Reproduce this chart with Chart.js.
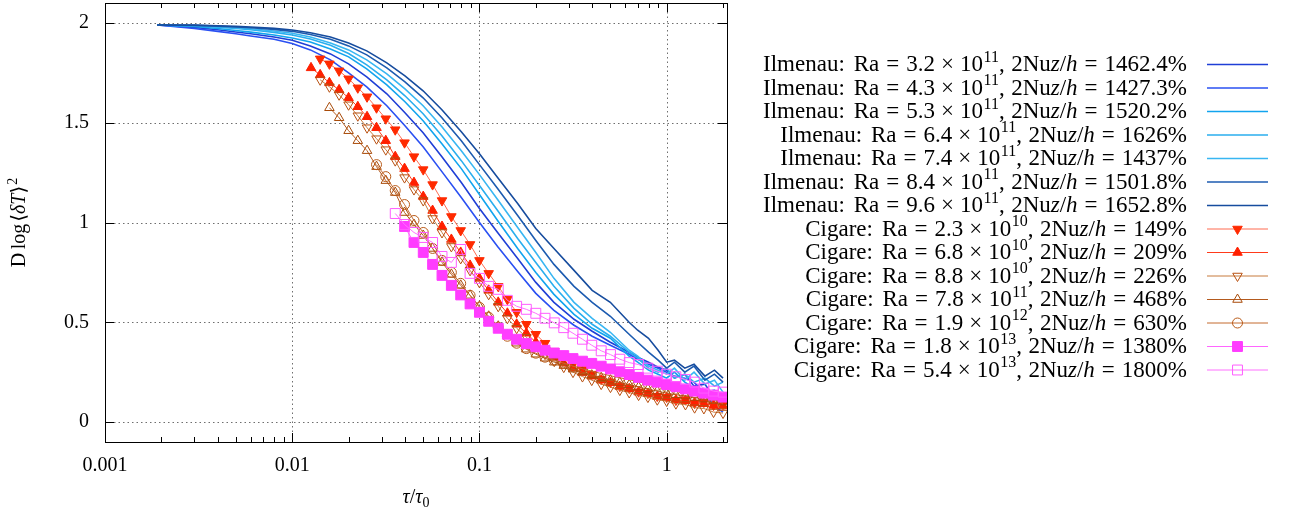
<!DOCTYPE html>
<html lang="en">
<head>
<meta charset="UTF-8">
<title>D log &lt;dT&gt;^2 vs tau/tau0</title>
<script src="https://cdn.jsdelivr.net/npm/chart.js"></script>
<style>
  html, body { margin: 0; padding: 0; background: #fff; }
  #wrap { width: 1295px; height: 516px; }
</style>
</head>
<body>
<div id="wrap"><canvas id="grafico" width="1295" height="516"></canvas></div>
<script>
// ---- Ilmenau: continuous curves ----
const ilmTau = [0.0019, 0.003, 0.004, 0.005, 0.006, 0.008, 0.01, 0.0125, 0.016, 0.02,
  0.025, 0.032, 0.04, 0.05, 0.063, 0.08, 0.1, 0.125, 0.16, 0.2,
  0.25, 0.32, 0.4, 0.5, 0.63, 0.7, 0.8, 0.9, 1.0, 1.1,
  1.25, 1.4, 1.6, 1.8, 2.0];
const ilmRa32 = [1.99, 1.978, 1.966, 1.955, 1.946, 1.93, 1.913, 1.885, 1.845, 1.795,
  1.73, 1.645, 1.55, 1.45, 1.33, 1.2, 1.07, 0.95, 0.82, 0.7,
  0.6, 0.515, 0.455, 0.4, 0.35, 0.325, 0.3, 0.275, 0.26, 0.22,
  0.24, 0.18, 0.19, 0.12, 0.1];
const ilmRa43 = [1.99, 1.972, 1.958, 1.946, 1.935, 1.918, 1.897, 1.865, 1.815, 1.75,
  1.68, 1.585, 1.485, 1.38, 1.255, 1.125, 1.0, 0.88, 0.755, 0.645,
  0.56, 0.485, 0.43, 0.385, 0.34, 0.315, 0.29, 0.27, 0.25, 0.23,
  0.22, 0.2, 0.14, 0.08, 0.05];
const ilmRa53 = [1.99, 1.982, 1.972, 1.962, 1.954, 1.94, 1.925, 1.905, 1.87, 1.83,
  1.77, 1.69, 1.605, 1.51, 1.395, 1.27, 1.14, 1.01, 0.87, 0.75,
  0.64, 0.54, 0.47, 0.42, 0.33, 0.3, 0.26, 0.24, 0.22, 0.25,
  0.2, 0.17, 0.15, 0.16, 0.12];
const ilmRa64 = [1.99, 1.985, 1.979, 1.972, 1.966, 1.953, 1.94, 1.92, 1.888, 1.847,
  1.79, 1.715, 1.635, 1.545, 1.435, 1.31, 1.185, 1.06, 0.92, 0.8,
  0.68, 0.57, 0.49, 0.43, 0.35, 0.32, 0.27, 0.25, 0.27, 0.22,
  0.24, 0.2, 0.22, 0.18, 0.2];
const ilmRa74 = [1.99, 1.987, 1.982, 1.976, 1.971, 1.96, 1.948, 1.93, 1.9, 1.865,
  1.815, 1.745, 1.67, 1.585, 1.48, 1.36, 1.24, 1.115, 0.975, 0.85,
  0.72, 0.6, 0.52, 0.45, 0.36, 0.33, 0.28, 0.26, 0.24, 0.27,
  0.21, 0.25, 0.19, 0.21, 0.15];
const ilmRa84 = [1.99, 1.988, 1.984, 1.98, 1.976, 1.968, 1.958, 1.942, 1.918, 1.885,
  1.84, 1.775, 1.705, 1.625, 1.525, 1.41, 1.29, 1.17, 1.035, 0.91,
  0.79, 0.68, 0.6, 0.53, 0.44, 0.4, 0.35, 0.31, 0.27, 0.3,
  0.25, 0.28, 0.21, 0.24, 0.2];
const ilmRa96 = [1.99, 1.989, 1.986, 1.983, 1.98, 1.973, 1.965, 1.951, 1.93, 1.9,
  1.86, 1.8, 1.735, 1.66, 1.565, 1.455, 1.345, 1.225, 1.095, 0.97,
  0.87, 0.76, 0.66, 0.6, 0.5, 0.46, 0.42, 0.36, 0.3, 0.31,
  0.27, 0.29, 0.23, 0.26, 0.22];

// ---- Cigare: points + lines (null = no point) ----
const cigTau = [0.0126, 0.0141, 0.0158, 0.0178, 0.02, 0.0224, 0.0251, 0.0282, 0.0316, 0.0355,
  0.0398, 0.0447, 0.0501, 0.0562, 0.0631, 0.0708, 0.0794, 0.0891, 0.1, 0.112,
  0.126, 0.141, 0.158, 0.178, 0.2, 0.224, 0.251, 0.282, 0.316, 0.355,
  0.398, 0.447, 0.501, 0.562, 0.631, 0.708, 0.794, 0.891, 1.0, 1.12,
  1.26, 1.41, 1.58, 1.78, 2.0];
const cigRa23e10 = [null, 1.82, 1.795, 1.76, 1.72, 1.675, 1.63, 1.575, 1.52, 1.465,
  1.40, 1.33, 1.265, 1.19, 1.11, 1.03, 0.96, 0.89, 0.81, 0.745,
  0.68, 0.615, 0.55, 0.49, 0.44, 0.395, 0.355, 0.32, 0.29, 0.263,
  0.24, 0.215, 0.2, 0.18, 0.17, 0.152, 0.145, 0.13, 0.125, 0.11,
  0.112, 0.095, 0.1, 0.085, 0.09];
const cigRa68e10 = [1.775, 1.74, 1.70, 1.665, 1.625, 1.58, 1.53, 1.475, 1.41, 1.33,
  1.27, 1.2, 1.13, 1.06, 0.98, 0.915, 0.85, 0.785, 0.72, 0.66,
  0.60, 0.545, 0.49, 0.445, 0.40, 0.36, 0.325, 0.295, 0.27, 0.248,
  0.23, 0.21, 0.197, 0.178, 0.167, 0.15, 0.142, 0.128, 0.122, 0.11,
  0.107, 0.096, 0.092, 0.083, 0.08];
const cigRa88e10 = [null, 1.715, 1.68, 1.64, 1.59, 1.535, 1.475, 1.42, 1.365, 1.31,
  1.225, 1.165, 1.11, 1.02, 0.95, 0.88, 0.82, 0.76, 0.70, 0.64,
  0.58, 0.52, 0.47, 0.425, 0.38, 0.34, 0.305, 0.275, 0.25, 0.228,
  0.21, 0.19, 0.175, 0.16, 0.148, 0.135, 0.125, 0.112, 0.105, 0.092,
  0.088, 0.072, 0.068, 0.05, 0.045];
const cigRa78e11 = [null, null, 1.575, 1.525, 1.46, 1.41, 1.36, 1.28, 1.21, 1.15,
  1.05, 0.99, 0.935, 0.87, 0.8, 0.74, 0.685, 0.635, 0.58, 0.53,
  0.48, 0.435, 0.395, 0.365, 0.34, 0.32, 0.3, 0.283, 0.265, 0.25,
  0.235, 0.222, 0.21, 0.198, 0.186, 0.175, 0.165, 0.155, 0.145, 0.137,
  0.13, 0.123, 0.115, 0.108, 0.1];
const cigRa19e12 = [null, null, null, null, null, null, null, 1.29, 1.23, 1.16,
  1.09, 1.01, 0.95, 0.87, 0.81, 0.75, 0.695, 0.635, 0.575, 0.525,
  0.475, 0.43, 0.395, 0.368, 0.345, 0.325, 0.31, 0.295, 0.28, 0.267,
  0.255, 0.243, 0.232, 0.222, 0.212, 0.202, 0.193, 0.184, 0.175, 0.165,
  0.155, 0.145, 0.135, 0.12, 0.09];
const cigRa18e13 = [null, null, null, null, null, null, null, null, null, null,
  0.98, 0.90, 0.85, 0.79, 0.735, 0.685, 0.637, 0.592, 0.55, 0.505,
  0.47, 0.44, 0.415, 0.393, 0.377, 0.36, 0.346, 0.333, 0.318, 0.305,
  0.294, 0.28, 0.266, 0.252, 0.238, 0.224, 0.21, 0.2, 0.188, 0.177,
  0.166, 0.155, 0.145, 0.135, 0.125];
const cigRa54e13 = [null, null, null, null, null, null, null, null, null, 1.045,
  0.99, 0.95, 0.925, 0.9, 0.83, 0.8, 0.865, 0.745, 0.72, 0.68,
  0.665, 0.61, 0.58, 0.565, 0.545, 0.52, 0.497, 0.473, 0.445, 0.415,
  0.385, 0.357, 0.338, 0.315, 0.298, 0.288, 0.27, 0.255, 0.24, 0.227,
  0.213, 0.2, 0.17, 0.155, 0.15];

// ---- legend text ----
const labelSource = ['Ilmenau', 'Ilmenau', 'Ilmenau', 'Ilmenau', 'Ilmenau', 'Ilmenau', 'Ilmenau',
  'Cigare', 'Cigare', 'Cigare', 'Cigare', 'Cigare', 'Cigare', 'Cigare'];
const labelRa = ['3.2', '4.3', '5.3', '6.4', '7.4', '8.4', '9.6', '2.3', '6.8', '8.8', '7.8', '1.9', '1.8', '5.4'];
const labelExp = ['11', '11', '11', '11', '11', '11', '11', '10', '10', '10', '11', '12', '13', '13'];
const labelNu = ['1462.4', '1427.3', '1520.2', '1626', '1437', '1501.8', '1652.8',
  '149', '209', '226', '468', '630', '1380', '1800'];

// ---- axes ----
const xTickValues = [0.001, 0.01, 0.1, 1];
const xTickLabels = ['0.001', '0.01', '0.1', '1'];
const yTickValues = [0, 0.5, 1, 1.5, 2];
const yTickLabels = ['0', '0.5', '1', '1.5', '2'];

const FONT = "'Liberation Serif', 'DejaVu Serif', serif";

function pts(xs, ys) {
  const out = [];
  xs.forEach((x, i) => { if (ys[i] !== null) out.push({ x: x, y: ys[i] }); });
  return out;
}

const ilmSeries = [ilmRa32, ilmRa43, ilmRa53, ilmRa64, ilmRa74, ilmRa84, ilmRa96];
const ilmColors = ['#1f3fd6', '#2a50f2', '#12a4ee', '#2aaeee', '#38b6f2', '#1c5bb0', '#164c9e'];

const cigSeries = [cigRa23e10, cigRa68e10, cigRa88e10, cigRa78e11, cigRa19e12, cigRa18e13, cigRa54e13];
const cigStyles = [
  { line: '#ff6a50', mark: '#ff2a00', fill: true, shape: 'triangle', rot: 180, r: 5.5 },
  { line: '#ff3a1a', mark: '#ff2000', fill: true, shape: 'triangle', rot: 0, r: 5.5 },
  { line: '#c77a3c', mark: '#b85010', fill: false, shape: 'triangle', rot: 180, r: 5.5 },
  { line: '#b45a1e', mark: '#a84a08', fill: false, shape: 'triangle', rot: 0, r: 5.5 },
  { line: '#c46a2e', mark: '#b85a18', fill: false, shape: 'circle', rot: 0, r: 5 },
  { line: '#ff66ff', mark: '#ff3cff', fill: true, shape: 'rect', rot: 0, r: 7 },
  { line: '#ff70ff', mark: '#ff5cff', fill: false, shape: 'rect', rot: 0, r: 7 }
];

const datasets = [];
ilmSeries.forEach((ys, i) => {
  datasets.push({
    data: pts(ilmTau, ys),
    borderColor: ilmColors[i],
    borderWidth: 1.6,
    pointRadius: 0,
    fill: false,
    order: 100 - i
  });
});
cigSeries.forEach((ys, i) => {
  const s = cigStyles[i];
  datasets.push({
    data: pts(cigTau, ys),
    borderColor: s.line,
    borderWidth: 1,
    pointStyle: s.shape,
    pointRotation: s.rot,
    pointRadius: s.r,
    pointBorderWidth: 1,
    pointBorderColor: s.mark,
    pointBackgroundColor: s.fill ? s.mark : 'rgba(0,0,0,0)',
    fill: false,
    order: 90 - i
  });
});

// rich text: parts [{t, it, sup, sub, gapL, gapR}]
function partFont(p, size) {
  const sz = (p.sup || p.sub) ? Math.round(size * 0.7) : size;
  return (p.it ? 'italic ' : '') + sz + 'px ' + FONT;
}
function drawRich(ctx, parts, x, y, size, align) {
  let total = 0;
  const widths = parts.map(p => {
    ctx.font = partFont(p, size);
    const w = ctx.measureText(p.t).width + (p.gapL || 0) + (p.gapR || 0);
    total += w;
    return w;
  });
  let cx = align === 'right' ? x - total : (align === 'center' ? x - total / 2 : x);
  ctx.textAlign = 'left';
  ctx.textBaseline = 'alphabetic';
  parts.forEach((p, i) => {
    ctx.font = partFont(p, size);
    let dy = 0;
    if (p.sup) dy = -size * 0.4;
    if (p.sub) dy = size * 0.22;
    ctx.fillText(p.t, cx + (p.gapL || 0), y + dy);
    cx += widths[i];
  });
}

function drawMarker(ctx, s, x, y) {
  ctx.save();
  ctx.lineWidth = 1;
  ctx.strokeStyle = s.mark;
  ctx.fillStyle = s.fill ? s.mark : 'rgba(0,0,0,0)';
  ctx.beginPath();
  if (s.shape === 'circle') {
    ctx.arc(x, y, s.r, 0, Math.PI * 2);
  } else if (s.shape === 'rect') {
    const h = s.r * Math.SQRT1_2;
    ctx.rect(x - h, y - h, 2 * h, 2 * h);
  } else {
    let a = s.rot * Math.PI / 180;
    ctx.moveTo(x + Math.sin(a) * s.r, y - Math.cos(a) * s.r);
    a += 2 * Math.PI / 3;
    ctx.lineTo(x + Math.sin(a) * s.r, y - Math.cos(a) * s.r);
    a += 2 * Math.PI / 3;
    ctx.lineTo(x + Math.sin(a) * s.r, y - Math.cos(a) * s.r);
    ctx.closePath();
  }
  if (s.fill) ctx.fill();
  ctx.stroke();
  ctx.restore();
}

const decor = {
  id: 'decor',
  beforeDatasetsDraw(chart) {
    const ctx = chart.ctx, a = chart.chartArea;
    const xs = chart.scales.x, ys = chart.scales.y;
    ctx.save();
    ctx.strokeStyle = '#6e6e6e';
    ctx.lineWidth = 1;
    ctx.setLineDash([1.5, 3]);
    xTickValues.slice(1).forEach(v => {
      const px = Math.round(xs.getPixelForValue(v)) + 0.5;
      ctx.beginPath(); ctx.moveTo(px, a.top); ctx.lineTo(px, a.bottom); ctx.stroke();
    });
    yTickValues.forEach(v => {
      const py = Math.round(ys.getPixelForValue(v)) + 0.5;
      ctx.beginPath(); ctx.moveTo(a.left, py); ctx.lineTo(a.right, py); ctx.stroke();
    });
    ctx.restore();
  },
  afterDatasetsDraw(chart) {
    const ctx = chart.ctx, a = chart.chartArea;
    const xs = chart.scales.x, ys = chart.scales.y;
    ctx.save();
    ctx.strokeStyle = '#000';
    ctx.lineWidth = 1;
    ctx.setLineDash([]);
    ctx.strokeRect(Math.round(a.left) + 0.5, Math.round(a.top) + 0.5,
      Math.round(a.right - a.left), Math.round(a.bottom - a.top));
    // x ticks (inward, mirrored)
    for (let e = -3; e <= 0; e++) {
      for (let m = 1; m <= 9; m++) {
        const v = m * Math.pow(10, e);
        if (v > xs.max) continue;
        const len = m === 1 ? 9 : 5;
        const px = Math.round(xs.getPixelForValue(v)) + 0.5;
        ctx.beginPath();
        ctx.moveTo(px, a.bottom); ctx.lineTo(px, a.bottom - len);
        ctx.moveTo(px, a.top); ctx.lineTo(px, a.top + len);
        ctx.stroke();
      }
    }
    yTickValues.forEach(v => {
      const py = Math.round(ys.getPixelForValue(v)) + 0.5;
      ctx.beginPath();
      ctx.moveTo(a.left, py); ctx.lineTo(a.left + 9, py);
      ctx.moveTo(a.right, py); ctx.lineTo(a.right - 9, py);
      ctx.stroke();
    });
    ctx.fillStyle = '#000';
    // axis titles
    drawRich(ctx, [{ t: 'τ', it: true }, { t: '/' }, { t: 'τ', it: true }, { t: '0', sub: true }],
      (a.left + a.right) / 2, 503, 20, 'center');
    ctx.save();
    ctx.translate(25, (a.top + a.bottom) / 2);
    ctx.rotate(-Math.PI / 2);
    drawRich(ctx, [{ t: 'D' }, { t: 'log', gapL: 3.5 }, { t: '⟨', gapL: 2 }, { t: 'δ', it: true },
      { t: 'T', it: true }, { t: '⟩' }, { t: '2', sup: true, gapL: 1 }], 0, 0, 20, 'center');
    ctx.restore();
    // legend
    const xText = 1187, xl0 = 1207, xl1 = 1268;
    chart.data.datasets.forEach((ds, i) => {
      const yRow = 64 + i * 23.5;
      ctx.fillStyle = '#000';
      drawRich(ctx, [
        { t: labelSource[i] + ':' }, { t: 'Ra', gapL: 9 }, { t: '=', gapL: 7, gapR: 7 },
        { t: labelRa[i] }, { t: '×', gapL: 6, gapR: 6 }, { t: '10' },
        { t: labelExp[i], sup: true, gapL: 0.5 }, { t: ',' }, { t: '2Nu', gapL: 6.5 },
        { t: 'z', it: true }, { t: '/' }, { t: 'h', it: true },
        { t: '=', gapL: 7, gapR: 7 }, { t: labelNu[i] + '%' }
      ], xText, yRow + 7, 23, 'right');
      ctx.strokeStyle = ds.borderColor;
      ctx.lineWidth = i < 7 ? 1.6 : 1;
      ctx.beginPath();
      ctx.moveTo(xl0, yRow + 0.5); ctx.lineTo(xl1, yRow + 0.5);
      ctx.stroke();
      if (i >= 7) drawMarker(ctx, cigStyles[i - 7], (xl0 + xl1) / 2, yRow + 0.5);
    });
    ctx.restore();
  }
};

const noPad = () => ({ left: 0, top: 0, right: 0, bottom: 0 });

const ctx = document.getElementById('grafico').getContext('2d');
const grafico = new Chart(ctx, {
  type: 'line',
  data: { datasets: datasets },
  options: {
    responsive: false,
    animation: false,
    events: [],
    layout: { autoPadding: false, padding: { left: 0, top: 3, right: 568, bottom: 0 } },
    plugins: { legend: { display: false }, tooltip: { enabled: false } },
    elements: { line: { tension: 0 } },
    scales: {
      x: {
        type: 'logarithmic',
        min: 0.001,
        max: 2.1,
        grid: { display: false, drawTicks: false },
        border: { display: false },
        ticks: {
          autoSkip: false, maxRotation: 0, padding: 12, color: '#000',
          font: { family: FONT, size: 20 },
          callback: (v, i) => xTickLabels[i]
        },
        afterBuildTicks: s => { s.ticks = xTickValues.map(v => ({ value: v })); },
        afterFit: s => {
          s.height = 74; s.paddingLeft = 0; s.paddingRight = 0;
          s.paddingTop = 0; s.paddingBottom = 0; s.getPadding = noPad;
        }
      },
      y: {
        type: 'linear',
        min: -0.1,
        max: 2.1,
        grid: { display: false, drawTicks: false },
        border: { display: false },
        ticks: {
          padding: 16, color: '#000',
          font: { family: FONT, size: 20 },
          callback: (v, i) => yTickLabels[i]
        },
        afterBuildTicks: s => { s.ticks = yTickValues.map(v => ({ value: v })); },
        afterFit: s => {
          s.width = 105; s.paddingLeft = 0; s.paddingRight = 0;
          s.paddingTop = 0; s.paddingBottom = 0; s.getPadding = noPad;
        }
      }
    }
  },
  plugins: [decor]
});
</script>
</body>
</html>
